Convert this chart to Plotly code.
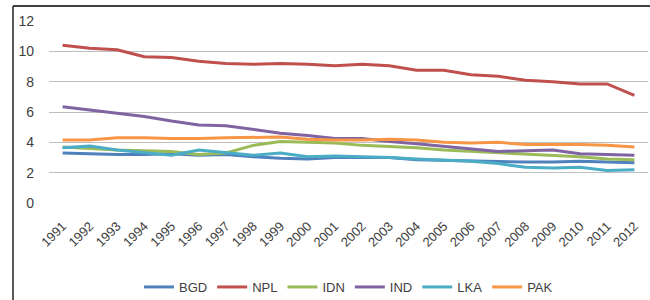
import plotly.graph_objects as go

years = [str(y) for y in range(1991, 2013)]
BGD = [3.3, 3.25, 3.2, 3.2, 3.25, 3.15, 3.2, 3.05, 2.95, 2.9, 3.0, 3.0, 3.0, 2.85, 2.8, 2.75, 2.7, 2.7, 2.7, 2.75, 2.7, 2.65]
NPL = [10.4, 10.2, 10.1, 9.65, 9.6, 9.35, 9.2, 9.15, 9.2, 9.15, 9.05, 9.15, 9.05, 8.75, 8.75, 8.45, 8.35, 8.1, 8.0, 7.85, 7.85, 7.1]
IDN = [3.7, 3.6, 3.5, 3.45, 3.4, 3.2, 3.3, 3.8, 4.05, 4.0, 3.95, 3.8, 3.75, 3.65, 3.5, 3.4, 3.3, 3.2, 3.15, 3.05, 2.9, 2.85]
IND = [6.35, 6.15, 5.9, 5.7, 5.4, 5.15, 5.1, 4.85, 4.6, 4.45, 4.25, 4.25, 4.05, 3.9, 3.75, 3.6, 3.4, 3.45, 3.5, 3.25, 3.2, 3.15]
LKA = [3.65, 3.75, 3.5, 3.3, 3.15, 3.5, 3.3, 3.15, 3.3, 3.05, 3.1, 3.05, 3.0, 2.9, 2.85, 2.75, 2.6, 2.35, 2.3, 2.35, 2.15, 2.2]
PAK = [4.15, 4.15, 4.3, 4.3, 4.25, 4.25, 4.3, 4.3, 4.35, 4.2, 4.15, 4.15, 4.2, 4.15, 4.0, 3.95, 4.0, 3.85, 3.85, 3.85, 3.8, 3.7]

series = [("BGD", BGD, "#4F81BD"), ("NPL", NPL, "#C0504D"), ("IDN", IDN, "#9BBB59"),
          ("IND", IND, "#8064A2"), ("LKA", LKA, "#4BACC6"), ("PAK", PAK, "#F79646")]

fig = go.Figure()
for name, vals, col in series:
    fig.add_trace(go.Scatter(x=years, y=vals, name=name, mode="lines",
                             line=dict(color=col, width=3)))

font = dict(family="Liberation Sans Narrow, Liberation Sans, Arial", size=13, color="#404040")
L, R, T, B = 49, 2, 21, 97
W, H = 650 - L - R, 300 - T - B
fig.update_layout(
    width=650, height=300,
    margin=dict(l=L, r=R, t=T, b=B, autoexpand=False),
    paper_bgcolor="white", plot_bgcolor="white",
    font=font,
    showlegend=True,
    legend=dict(orientation="h", x=0.5, xanchor="center", y=(300 - 287 - B) / H, yanchor="middle",
                font=dict(size=13), itemwidth=30, traceorder="normal", tracegroupgap=0),
    xaxis=dict(type="category", range=[-0.5, 21.5], tickangle=-45, showgrid=False,
               showline=False, ticks="", tickfont=dict(size=13), ticklabelstandoff=12,
               automargin=False),
    yaxis=dict(range=[0, 12], dtick=2, showgrid=True, gridcolor="#BFBFBF", gridwidth=1,
               zeroline=False, showline=False, ticks="", tickfont=dict(size=14),
               ticklabelstandoff=14, automargin=False),
    shapes=[
        dict(type="line", xref="paper", yref="paper", x0=(13 - L) / W, x1=(13 - L) / W,
             y0=(300 - 6 - B) / H, y1=-B / H, line=dict(color="#595959", width=2)),
        dict(type="line", xref="paper", yref="paper", x0=(13 - L) / W, x1=(650 - L) / W,
             y0=(300 - 6 - B) / H, y1=(300 - 6 - B) / H, line=dict(color="#404040", width=2)),
    ],
)
fig.write_html("out.html", config={"displayModeBar": False},
               post_script="document.body.style.margin='0';document.body.style.overflow='hidden';")
